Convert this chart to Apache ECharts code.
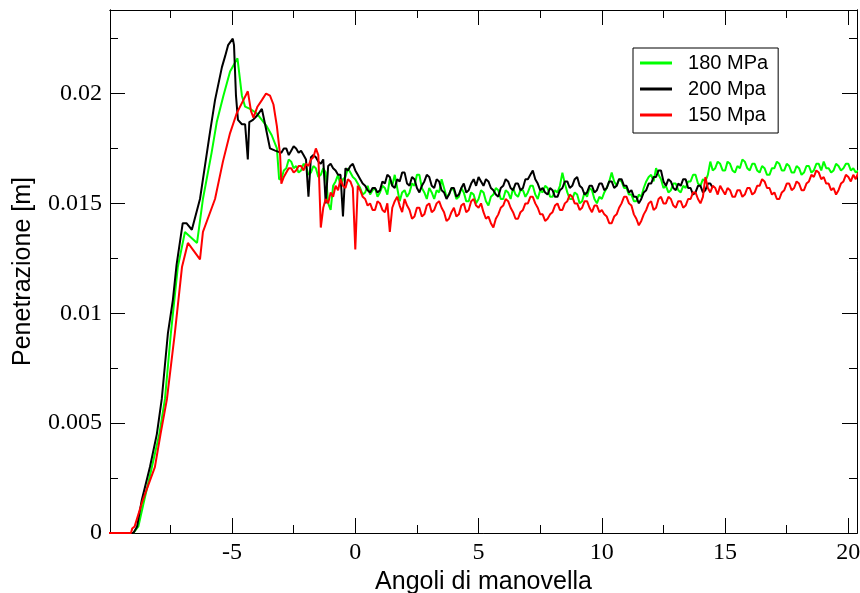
<!DOCTYPE html>
<html>
<head>
<meta charset="utf-8">
<script src="https://cdn.jsdelivr.net/npm/echarts@6/dist/echarts.min.js"></script>
<style>
html,body{margin:0;padding:0;background:#fff;}
#chart{width:860px;height:593px;}
</style>
</head>
<body>
<div id="chart"></div>
<script>
// ---- Data ----
const seriesNames = ['180 MPa', '200 Mpa', '150 Mpa'];
const xMajorTicks = [-5, 0, 5, 10, 15, 20];
const xMinorTicks = [-7.5, -2.5, 2.5, 7.5, 12.5, 17.5];
const yMajorTicks = [0, 0.005, 0.01, 0.015, 0.02];
const yMinorTicks = [0.0025, 0.0075, 0.0125, 0.0175, 0.0225];

// early phase (rise and first peaks)
const riseX180 = [-10, -9.0, -8.8, -8.6, -8.25, -7.95, -7.72, -7.48, -7.2, -6.91, -6.42, -6.18, -5.83, -5.62, -5.35, -5.08, -4.78, -4.6, -4.47, -4.27, -4.0, -3.79, -3.59, -3.39, -3.18, -3.09];
const riseY180 = [0, 0, 0.0003, 0.0013, 0.003, 0.0045, 0.0061, 0.0091, 0.0121, 0.0137, 0.0132, 0.0152, 0.0173, 0.0187, 0.0199, 0.0210, 0.0216, 0.0199, 0.0194, 0.0193, 0.0191, 0.0188, 0.0185, 0.0181, 0.0175, 0.0161];

const riseX200 = [-10, -9.0, -8.85, -8.66, -8.33, -8.05, -7.85, -7.6, -7.4, -7.25, -7.0, -6.85, -6.63, -6.3, -5.9, -5.69, -5.41, -5.28, -5.16, -4.97, -4.92, -4.84, -4.76, -4.6, -4.47, -4.36, -4.3, -4.15, -3.98, -3.79, -3.66, -3.46, -3.25];
const riseY200 = [0, 0, 0.0003, 0.0015, 0.003, 0.0045, 0.0061, 0.0091, 0.0106, 0.0122, 0.0141, 0.0141, 0.0138, 0.0152, 0.0182, 0.0197, 0.0212, 0.0217, 0.0222, 0.0225, 0.0222, 0.0199, 0.0188, 0.0186, 0.0186, 0.0170, 0.0187, 0.0188, 0.0190, 0.0193, 0.0186, 0.0175, 0.0174];

const riseX150 = [-10, -9.1, -9.05, -8.95, -8.62, -8.13, -7.9, -7.64, -7.32, -7.03, -6.79, -6.3, -6.18, -5.69, -5.37, -5.08, -4.81, -4.54, -4.36, -4.23, -4.13, -3.97, -3.79, -3.62, -3.46, -3.32, -3.18, -3.05];
const riseY150 = [0, 0, 0.0002, 0.0003, 0.0015, 0.003, 0.0045, 0.0061, 0.0091, 0.0121, 0.0132, 0.01245, 0.0137, 0.0152, 0.0169, 0.0182, 0.0191, 0.0197, 0.0201, 0.0192, 0.0189, 0.0194, 0.0197, 0.0200, 0.0199, 0.0195, 0.0185, 0.0172];

// later phase (fluctuating plateau), sampled angles
const plateauX = [
  -3, -2.9, -2.8, -2.7, -2.6, -2.5, -2.4, -2.3, -2.2, -2.1,
  -2, -1.9, -1.8, -1.7, -1.6, -1.5, -1.4, -1.3, -1.2, -1.1,
  -1, -0.9, -0.8, -0.7, -0.6, -0.5, -0.4, -0.3, -0.2, -0.1,
  0, 0.1, 0.2, 0.3, 0.4, 0.5, 0.6, 0.7, 0.8, 0.9,
  1, 1.1, 1.2, 1.3, 1.4, 1.5, 1.6, 1.7, 1.8, 1.9,
  2, 2.1, 2.2, 2.3, 2.4, 2.5, 2.6, 2.7, 2.8, 2.9,
  3, 3.1, 3.2, 3.3, 3.4, 3.5, 3.6, 3.7, 3.8, 3.9,
  4, 4.1, 4.2, 4.3, 4.4, 4.5, 4.6, 4.7, 4.8, 4.9,
  5, 5.1, 5.2, 5.3, 5.4, 5.5, 5.6, 5.7, 5.8, 5.9,
  6, 6.1, 6.2, 6.3, 6.4, 6.5, 6.6, 6.7, 6.8, 6.9,
  7, 7.1, 7.2, 7.3, 7.4, 7.5, 7.6, 7.7, 7.8, 7.9,
  8, 8.1, 8.2, 8.3, 8.4, 8.5, 8.6, 8.7, 8.8, 8.9,
  9, 9.1, 9.2, 9.3, 9.4, 9.5, 9.6, 9.7, 9.8, 9.9,
  10, 10.1, 10.2, 10.3, 10.4, 10.5, 10.6, 10.7, 10.8, 10.9,
  11, 11.1, 11.2, 11.3, 11.4, 11.5, 11.6, 11.7, 11.8, 11.9,
  12, 12.1, 12.2, 12.3, 12.4, 12.5, 12.6, 12.7, 12.8, 12.9,
  13, 13.1, 13.2, 13.3, 13.4, 13.5, 13.6, 13.7, 13.8, 13.9,
  14, 14.1, 14.2, 14.3, 14.4, 14.5, 14.6, 14.7, 14.8, 14.9,
  15, 15.1, 15.2, 15.3, 15.4, 15.5, 15.6, 15.7, 15.8, 15.9,
  16, 16.1, 16.2, 16.3, 16.4, 16.5, 16.6, 16.7, 16.8, 16.9,
  17, 17.1, 17.2, 17.3, 17.4, 17.5, 17.6, 17.7, 17.8, 17.9,
  18, 18.1, 18.2, 18.3, 18.4, 18.5, 18.6, 18.7, 18.8, 18.9,
  19, 19.1, 19.2, 19.3, 19.4, 19.5, 19.6, 19.7, 19.8, 19.9,
  20, 20.1, 20.2, 20.3, 20.4
];

const plateauY180 = [
  0.0161, 0.0165, 0.0166, 0.0170, 0.0169, 0.0166, 0.0167, 0.0164, 0.0165, 0.0168,
  0.0167, 0.0163, 0.0164, 0.0167, 0.0166, 0.0162, 0.0163, 0.0166, 0.0164, 0.0150,
  0.0147, 0.0158, 0.0160, 0.0163, 0.0158, 0.0161, 0.0162, 0.0166, 0.0164, 0.0162,
  0.0161, 0.0159, 0.0157, 0.0154, 0.0155, 0.0158, 0.0154, 0.0156, 0.0157, 0.0153,
  0.0155, 0.0158, 0.0157, 0.0154, 0.0161, 0.0158, 0.0163, 0.0157, 0.0151, 0.0155,
  0.0156, 0.0153, 0.0155, 0.0159, 0.0158, 0.0163, 0.0163, 0.0157, 0.0155, 0.0152,
  0.0157, 0.0155, 0.0152, 0.0156, 0.0155, 0.0161, 0.0157, 0.0153, 0.0154, 0.0157,
  0.0156, 0.0152, 0.0153, 0.0157, 0.0155, 0.0151, 0.0151, 0.0155, 0.0154, 0.0150,
  0.0152, 0.0156, 0.0155, 0.0151, 0.0149, 0.0153, 0.0154, 0.0157, 0.0156, 0.0152,
  0.0152, 0.0156, 0.0155, 0.0152, 0.0157, 0.0154, 0.0153, 0.0156, 0.0156, 0.0153,
  0.0155, 0.0158, 0.0158, 0.0154, 0.0152, 0.0156, 0.0155, 0.0158, 0.0157, 0.0153,
  0.0153, 0.0156, 0.0155, 0.0158, 0.0164, 0.0159, 0.0155, 0.0152, 0.0152, 0.0155,
  0.0154, 0.0150, 0.0151, 0.0155, 0.0153, 0.0157, 0.0156, 0.0152, 0.0150, 0.0153,
  0.0152, 0.0155, 0.0157, 0.0160, 0.0164, 0.0160, 0.0158, 0.0161, 0.0160, 0.0157,
  0.0157, 0.0154, 0.0154, 0.0151, 0.0151, 0.0154, 0.0153, 0.0157, 0.0160, 0.0162,
  0.0163, 0.0160, 0.0166, 0.0163, 0.0161, 0.0157, 0.0158, 0.0155, 0.0156, 0.0159,
  0.0159, 0.0156, 0.0155, 0.0158, 0.0157, 0.0160, 0.0160, 0.0163, 0.0163, 0.0159,
  0.0158, 0.0161, 0.0160, 0.0163, 0.0169, 0.0165, 0.0166, 0.0169, 0.0168, 0.0165,
  0.0165, 0.0169, 0.0168, 0.0165, 0.0164, 0.0167, 0.0166, 0.0170, 0.0169, 0.0166,
  0.0165, 0.0168, 0.0168, 0.0165, 0.0164, 0.0167, 0.0166, 0.0163, 0.0163, 0.0166,
  0.0166, 0.0169, 0.0168, 0.0165, 0.0165, 0.0168, 0.0167, 0.0164, 0.0164, 0.0167,
  0.0166, 0.0163, 0.0164, 0.0167, 0.0167, 0.0164, 0.0165, 0.0168, 0.0168, 0.0165,
  0.0169, 0.0166, 0.0166, 0.0164, 0.0165, 0.0168, 0.0167, 0.0165, 0.0166, 0.0168,
  0.0168, 0.0165, 0.0166, 0.0164, 0.0165
];

const plateauY200 = [
  0.0173, 0.0175, 0.0175, 0.0172, 0.0174, 0.0176, 0.0175, 0.0173, 0.0174, 0.0172,
  0.0170, 0.0153, 0.0171, 0.0172, 0.0171, 0.0169, 0.0168, 0.0170, 0.0150, 0.0167,
  0.0168, 0.0166, 0.0165, 0.0163, 0.0163, 0.0144, 0.0166, 0.0165, 0.0167, 0.0168,
  0.0165, 0.0163, 0.0161, 0.0159, 0.0158, 0.0156, 0.0155, 0.0157, 0.0157, 0.0155,
  0.0156, 0.0160, 0.0159, 0.0163, 0.0162, 0.0158, 0.0157, 0.0161, 0.0160, 0.0164,
  0.0164, 0.0159, 0.0158, 0.0162, 0.0161, 0.0157, 0.0155, 0.0158, 0.0160, 0.0163,
  0.0162, 0.0158, 0.0157, 0.0161, 0.0160, 0.0156, 0.0155, 0.0152, 0.0154, 0.0157,
  0.0157, 0.0153, 0.0154, 0.0157, 0.0159, 0.0155, 0.0156, 0.0159, 0.0161, 0.0158,
  0.0162, 0.0160, 0.0158, 0.0161, 0.0160, 0.0157, 0.0156, 0.0154, 0.0153, 0.0157,
  0.0158, 0.0161, 0.0160, 0.0157, 0.0156, 0.0159, 0.0159, 0.0156, 0.0157, 0.0161,
  0.0161, 0.0163, 0.0165, 0.0161, 0.0159, 0.0156, 0.0157, 0.0155, 0.0154, 0.0157,
  0.0156, 0.0153, 0.0153, 0.0156, 0.0157, 0.0160, 0.0160, 0.0157, 0.0158, 0.0161,
  0.0162, 0.0158, 0.0157, 0.0154, 0.0155, 0.0158, 0.0158, 0.0155, 0.0156, 0.0159,
  0.0159, 0.0156, 0.0157, 0.0160, 0.0160, 0.0157, 0.0158, 0.0161, 0.0161, 0.0158,
  0.0158, 0.0155, 0.0156, 0.0153, 0.0153, 0.0150, 0.0152, 0.0155, 0.0156, 0.0159,
  0.0159, 0.0162, 0.0162, 0.0165, 0.0165, 0.0160, 0.0158, 0.0161, 0.0160, 0.0157,
  0.0156, 0.0159, 0.0158, 0.0161, 0.0161, 0.0157, 0.0157, 0.0154, 0.0155, 0.0158,
  0.0158, 0.0155, 0.0156, 0.0159, 0.0159, 0.0157
];

const plateauY150 = [
  0.0159, 0.0162, 0.0164, 0.0166, 0.0166, 0.0164, 0.0165, 0.0167, 0.0167, 0.0165,
  0.0168, 0.0167, 0.0170, 0.0171, 0.0175, 0.0172, 0.0139, 0.0148, 0.0152, 0.0150,
  0.0155, 0.0153, 0.0158, 0.0156, 0.0161, 0.0158, 0.0157, 0.0161, 0.0160, 0.0157,
  0.0129, 0.0158, 0.0156, 0.0153, 0.0152, 0.0149, 0.0150, 0.0147, 0.0147, 0.0151,
  0.0150, 0.0147, 0.0146, 0.0150, 0.0137, 0.0148, 0.0151, 0.0153, 0.0149, 0.0146,
  0.0152, 0.0149, 0.0147, 0.0143, 0.0144, 0.0148, 0.0148, 0.0144, 0.0145, 0.0149,
  0.0150, 0.0146, 0.0147, 0.0150, 0.0151, 0.0148, 0.0146, 0.0142, 0.0143, 0.0146,
  0.0148, 0.0144, 0.0145, 0.0149, 0.0150, 0.0146, 0.0147, 0.0151, 0.0152, 0.0149,
  0.0148, 0.0150, 0.0146, 0.0143, 0.0144, 0.0141, 0.0139, 0.0143, 0.0145, 0.0148,
  0.0149, 0.0152, 0.0151, 0.0148, 0.0146, 0.0143, 0.0143, 0.0146, 0.0147, 0.0150,
  0.0150, 0.0153, 0.0153, 0.0150, 0.0148, 0.0145, 0.0145, 0.0142, 0.0143, 0.0145,
  0.0146, 0.0149, 0.0150, 0.0147, 0.0147, 0.0150, 0.0151, 0.0154, 0.0153, 0.0150,
  0.0150, 0.0147, 0.0148, 0.0151, 0.0151, 0.0148, 0.0146, 0.0149, 0.0149, 0.0146,
  0.0147, 0.0145, 0.0144, 0.0141, 0.0141, 0.0144, 0.0145, 0.0148, 0.0150, 0.0153,
  0.0153, 0.0150, 0.0149, 0.0145, 0.0143, 0.0140, 0.0142, 0.0145, 0.0147, 0.0150,
  0.0151, 0.0147, 0.0148, 0.0152, 0.0153, 0.0150, 0.0150, 0.0153, 0.0152, 0.0149,
  0.0148, 0.0151, 0.0151, 0.0148, 0.0149, 0.0152, 0.0152, 0.0155, 0.0155, 0.0152,
  0.0150, 0.0153, 0.0162, 0.0157, 0.0155, 0.0158, 0.0157, 0.0154, 0.0158, 0.0156,
  0.0154, 0.0157, 0.0156, 0.0153, 0.0153, 0.0156, 0.0156, 0.0153, 0.0154, 0.0157,
  0.0157, 0.0154, 0.0155, 0.0158, 0.0158, 0.0161, 0.0160, 0.0157, 0.0157, 0.0154,
  0.0155, 0.0152, 0.0152, 0.0155, 0.0156, 0.0159, 0.0159, 0.0156, 0.0157, 0.0160,
  0.0159, 0.0156, 0.0156, 0.0159, 0.0160, 0.0163, 0.0162, 0.0165, 0.0164, 0.0161,
  0.0162, 0.0159, 0.0159, 0.0156, 0.0157, 0.0154, 0.0156, 0.0159, 0.0160, 0.0163,
  0.0162, 0.0160, 0.0163, 0.0161, 0.0164
];

// ---- Build ----
function pairs(xs, ys) {
  const out = [];
  const n = Math.min(xs.length, ys.length);
  for (let i = 0; i < n; i++) out.push([xs[i], ys[i]]);
  return out;
}
const data180 = pairs(riseX180, riseY180).concat(pairs(plateauX, plateauY180));
const data200 = pairs(riseX200, riseY200).concat(pairs(plateauX, plateauY200));
const data150 = pairs(riseX150, riseY150).concat(pairs(plateauX, plateauY150));

const X_MIN = -9.95, X_MAX = 20.35, Y_MIN = 0, Y_MAX = 0.0238;
const serif = 'Liberation Serif';
const sans = 'Liberation Sans';
const axisColor = '#000';

function xAx(pos, ticks, len, withLabels) {
  return {
    type: 'value', position: pos, min: X_MIN, max: X_MAX,
    axisLine: { show: true, onZero: false, lineStyle: { color: axisColor, width: 1 } },
    axisTick: { show: true, inside: true, length: len, customValues: ticks, lineStyle: { color: axisColor, width: 1 } },
    axisLabel: withLabels ? { show: true, customValues: ticks, fontFamily: serif, fontSize: 24, color: '#000', margin: 8 } : { show: false },
    splitLine: { show: false }
  };
}
function yAx(pos, ticks, len, withLabels) {
  return {
    type: 'value', position: pos, min: Y_MIN, max: Y_MAX,
    axisLine: { show: true, onZero: false, lineStyle: { color: axisColor, width: 1 } },
    axisTick: { show: true, inside: true, length: len, customValues: ticks, lineStyle: { color: axisColor, width: 1 } },
    axisLabel: withLabels ? { show: true, customValues: ticks, fontFamily: serif, fontSize: 24, color: '#000', margin: 8 } : { show: false },
    splitLine: { show: false }
  };
}

const xMain = xAx('bottom', xMajorTicks, 15, true);
xMain.name = 'Angoli di manovella';
xMain.nameLocation = 'middle';
xMain.nameGap = 32;
xMain.nameTextStyle = { fontFamily: sans, fontSize: 25, color: '#000' };

const yMain = yAx('left', yMajorTicks, 15, true);
yMain.name = 'Penetrazione [m]';
yMain.nameLocation = 'middle';
yMain.nameGap = 74;
yMain.nameRotate = 90;
yMain.nameTextStyle = { fontFamily: sans, fontSize: 25, color: '#000' };

const chart = echarts.init(document.getElementById('chart'), null, { renderer: 'canvas' });
chart.setOption({
  animation: false,
  backgroundColor: '#fff',
  grid: { left: 110, right: 3, top: 10, bottom: 60, containLabel: false, outerBoundsMode: 'none' },
  xAxis: [
    xMain,
    xAx('bottom', xMinorTicks, 8, false),
    xAx('top', xMajorTicks, 15, false),
    xAx('top', xMinorTicks, 8, false)
  ],
  yAxis: [
    yMain,
    yAx('left', yMinorTicks, 8, false),
    yAx('right', yMajorTicks, 15, false),
    yAx('right', yMinorTicks, 8, false)
  ],
  legend: {
    orient: 'vertical',
    left: 633, top: 48,
    borderColor: '#000', borderWidth: 1,
    padding: [3, 10, 6, 7],
    itemGap: 2,
    itemWidth: 32, itemHeight: 3,
    icon: 'rect',
    formatter: function (n) { return '  ' + n; },
    textStyle: { fontFamily: sans, fontSize: 20, color: '#000', lineHeight: 24 },
    data: seriesNames
  },
  series: [
    { name: seriesNames[0], type: 'line', data: data180, color: '#00ff00', symbol: 'none', showSymbol: false, lineStyle: { width: 2, color: '#00ff00' } },
    { name: seriesNames[1], type: 'line', data: data200, color: '#000000', symbol: 'none', showSymbol: false, lineStyle: { width: 2, color: '#000000' } },
    { name: seriesNames[2], type: 'line', data: data150, color: '#ff0000', symbol: 'none', showSymbol: false, lineStyle: { width: 2, color: '#ff0000' } }
  ]
});
</script>
</body>
</html>
